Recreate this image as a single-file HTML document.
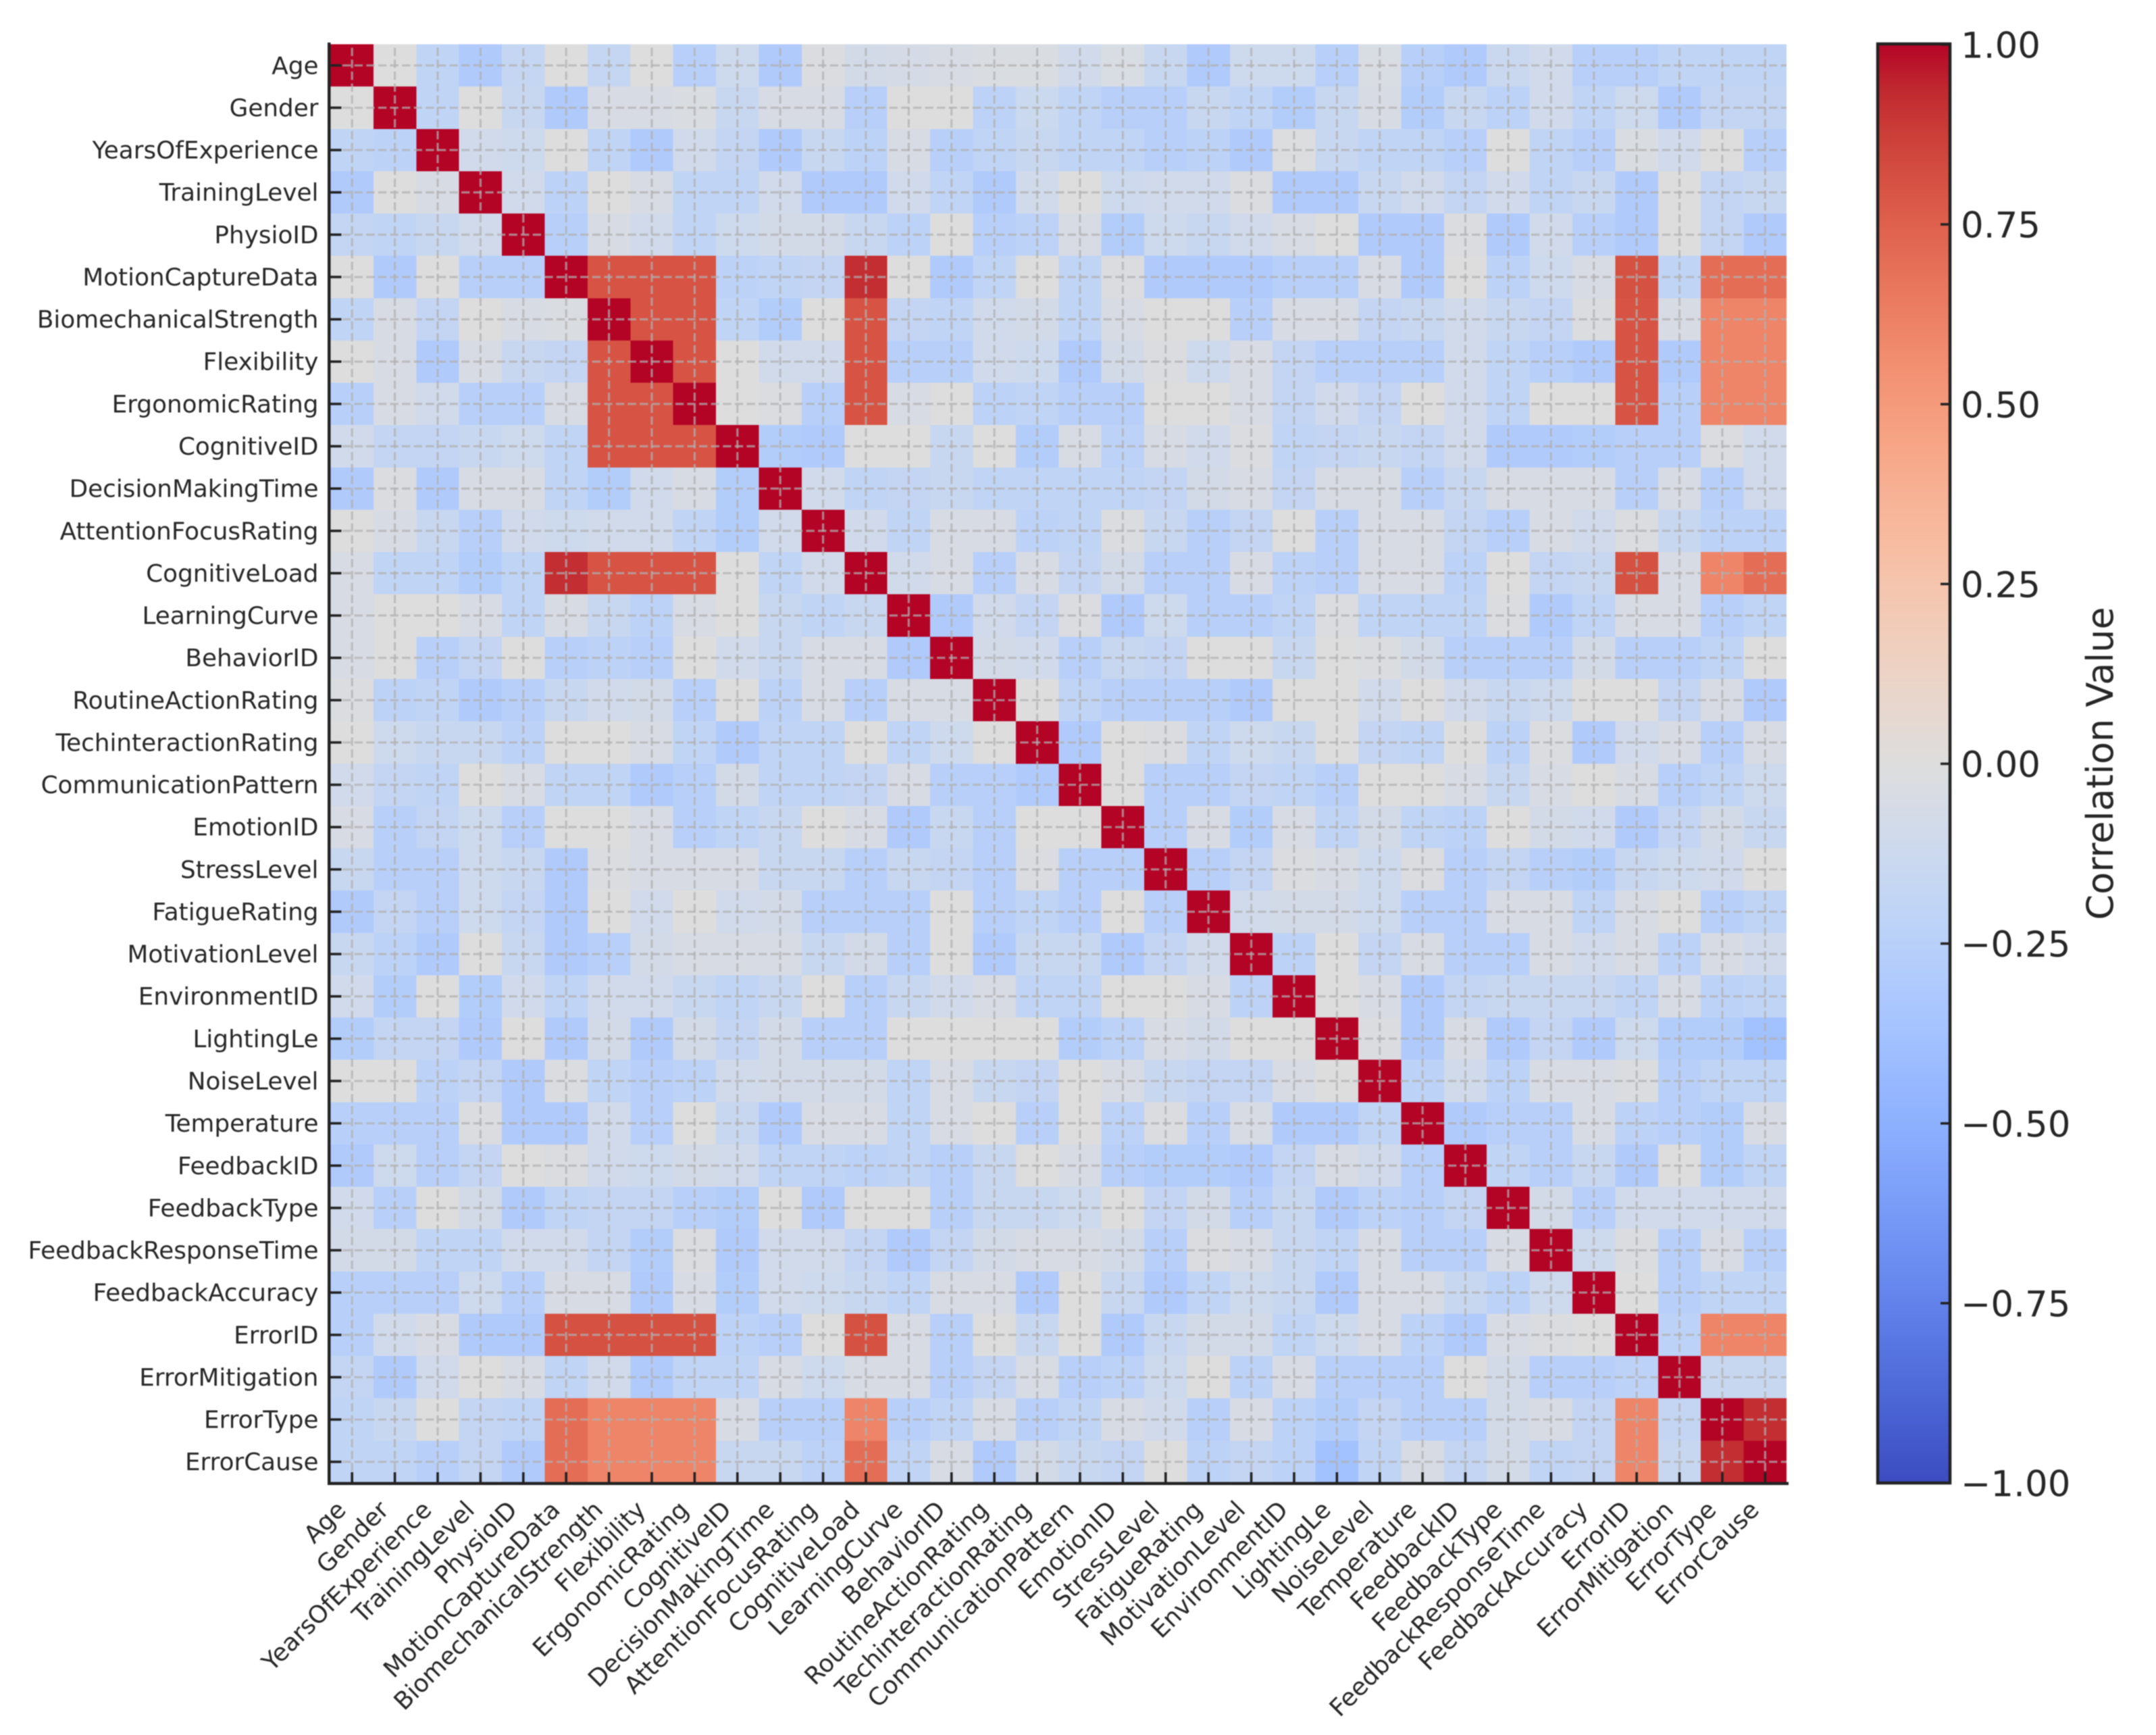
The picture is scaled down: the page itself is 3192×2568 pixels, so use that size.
<!DOCTYPE html>
<html lang="en">
<head>
<meta charset="utf-8">
<title>Correlation Heatmap</title>
<style>
html,body{margin:0;padding:0;background:#fff;}
svg{display:block;filter:blur(0.8px);}
text{font-family:"DejaVu Sans","Liberation Sans",sans-serif;fill:#262626;}
</style>
</head>
<body>
<svg id="chart" xmlns="http://www.w3.org/2000/svg" width="3192" height="2568" viewBox="0 0 3192 2568">
  <defs>
    <linearGradient id="colorbar-gradient" x1="0" y1="1" x2="0" y2="0"></linearGradient>
  </defs>
  <rect x="0" y="0" width="3192" height="2568" fill="#ffffff"/>
  <g id="cells" shape-rendering="crispEdges"></g>
  <g id="grid"></g>
  <g id="ticks"></g>
  <rect x="485" y="63" width="4.5" height="2135" fill="#222222"/>
  <rect x="485" y="2193.5" width="2163" height="4.5" fill="#222222"/>
  <g id="y-labels"></g>
  <g id="x-labels"></g>
  <rect x="2780" y="65" width="107" height="2130" fill="url(#colorbar-gradient)" stroke="#222222" stroke-width="4.5"/>
  <g id="colorbar-ticks"></g>
  <text transform="translate(3128 1130) rotate(-90)" text-anchor="middle" font-size="54">Correlation Value</text>
</svg>
<script>
const categories = ["Age","Gender","YearsOfExperience","TrainingLevel","PhysioID","MotionCaptureData","BiomechanicalStrength","Flexibility","ErgonomicRating","CognitiveID","DecisionMakingTime","AttentionFocusRating","CognitiveLoad","LearningCurve","BehaviorID","RoutineActionRating","TechinteractionRating","CommunicationPattern","EmotionID","StressLevel","FatigueRating","MotivationLevel","EnvironmentID","LightingLe","NoiseLevel","Temperature","FeedbackID","FeedbackType","FeedbackResponseTime","FeedbackAccuracy","ErrorID","ErrorMitigation","ErrorType","ErrorCause"];

const correlationValues = [
[1,0,-.2,-.3,-.17,0,-.17,0,-.25,-.12,-.3,-.02,-.08,-.06,-.05,-.03,-.03,-.1,-.04,-.15,-.3,-.12,-.12,-.25,-.04,-.25,-.3,-.14,-.1,-.25,-.25,-.2,-.2,-.2],
[0,1,-.2,0,-.15,-.3,-.05,-.05,-.03,-.15,-.05,-.05,-.25,0,0,-.22,-.13,-.2,-.25,-.25,-.15,-.2,-.28,-.15,-.05,-.28,-.15,-.22,-.1,-.2,-.12,-.3,-.18,-.18],
[-.2,-.22,1,-.1,-.12,0,-.2,-.3,-.1,-.18,-.3,-.15,-.22,-.05,-.25,-.2,-.15,-.2,-.2,-.25,-.22,-.3,-.01,-.15,-.2,-.2,-.25,0,-.2,-.25,-.03,-.1,0,-.25],
[-.3,0,-.05,1,-.1,-.22,0,-.05,-.2,-.2,-.1,-.3,-.3,-.1,-.2,-.3,-.1,0,-.12,-.1,-.1,-.02,-.3,-.3,-.15,-.1,-.18,-.1,-.2,-.15,-.3,0,-.18,-.15],
[-.18,-.2,-.15,-.1,1,-.25,-.05,-.1,-.2,-.12,-.08,-.08,-.15,-.22,0,-.25,-.22,-.05,-.28,-.12,-.15,-.1,-.05,0,-.3,-.3,-.02,-.3,-.1,-.25,-.3,0,-.18,-.3],
[0,-.3,0,-.25,-.25,1,.8,.8,.8,-.22,-.2,-.18,.92,0,-.3,-.2,0,-.2,-.02,-.3,-.3,-.3,-.25,-.25,-.05,-.3,0,-.22,-.12,-.05,.81,-.2,.7,.7],
[-.2,-.05,-.18,0,-.05,-.03,1,.8,.8,-.2,-.28,0,.8,-.18,-.2,-.1,-.08,-.2,-.05,0,0,-.25,-.05,-.05,-.18,-.15,-.1,-.15,-.18,-.02,.8,-.05,.6,.6],
[0,-.05,-.3,-.05,-.15,-.18,.8,1,.8,0,-.1,-.1,.8,-.25,-.25,-.1,-.12,-.3,-.08,-.02,-.12,-.05,-.18,-.25,-.25,-.25,-.1,-.2,-.25,-.3,.8,-.3,.6,.6],
[-.25,-.05,-.1,-.25,-.25,-.05,.8,.8,1,0,-.02,-.25,.8,-.05,0,-.22,-.2,-.25,-.25,0,0,-.05,-.18,-.1,-.18,0,-.1,-.2,0,0,.8,-.25,.6,.6],
[-.1,-.18,-.18,-.15,-.12,-.2,.8,.8,.8,1,-.28,-.3,0,0,-.15,0,-.28,-.05,-.22,-.05,-.1,-.02,-.2,-.18,-.15,-.18,-.1,-.3,-.3,-.28,-.25,-.25,-.02,-.1],
[-.3,-.02,-.3,-.05,-.05,-.2,-.28,-.1,-.05,-.28,1,-.1,-.2,-.18,-.15,-.2,-.2,-.2,-.2,-.18,-.08,-.05,-.18,-.05,-.05,-.25,-.15,-.05,-.05,-.05,-.25,-.05,-.25,-.1],
[0,-.05,-.15,-.25,-.1,-.12,-.1,-.1,-.2,-.28,-.1,1,-.1,-.2,-.05,-.05,-.22,-.2,-.02,-.15,-.25,-.18,0,-.25,-.05,-.05,-.18,-.25,-.05,-.1,-.02,-.15,-.22,-.22],
[-.05,-.2,-.2,-.28,-.2,.92,.8,.8,.8,0,-.2,-.1,1,-.1,-.05,-.25,-.05,-.18,-.08,-.25,-.25,-.05,-.22,-.25,-.05,-.05,-.22,0,-.18,-.15,.81,-.05,.6,.7],
[-.05,0,0,-.05,-.2,-.05,-.15,-.22,-.05,0,-.15,-.2,-.15,1,-.3,-.1,-.18,-.02,-.3,-.12,-.25,-.25,-.2,-.02,-.2,-.2,-.2,-.02,-.3,-.2,-.05,-.05,-.25,-.2],
[-.05,0,-.25,-.18,0,-.25,-.22,-.25,0,-.1,-.15,-.05,-.05,-.3,1,-.08,-.1,-.25,-.15,-.18,0,0,-.15,0,-.02,-.08,-.25,-.25,-.25,-.08,-.25,-.25,-.2,0],
[-.02,-.22,-.2,-.3,-.25,-.15,-.1,-.08,-.25,0,-.22,-.05,-.25,-.05,-.05,1,0,-.2,-.25,-.25,-.25,-.3,0,0,-.1,0,-.1,-.15,-.12,0,0,-.18,-.05,-.3],
[0,-.12,-.15,-.15,-.22,0,0,-.05,-.2,-.3,-.2,-.2,0,-.2,-.12,0,1,-.3,0,-.02,-.2,-.12,-.15,0,-.18,-.2,0,-.22,-.02,-.3,-.1,-.05,-.25,-.05],
[-.1,-.18,-.2,0,-.05,-.2,-.2,-.3,-.25,-.08,-.2,-.2,-.18,-.05,-.25,-.25,-.3,1,0,-.25,-.25,-.18,-.2,-.25,0,0,-.05,-.15,-.05,0,-.05,-.25,-.2,-.12],
[-.05,-.25,-.18,-.12,-.25,0,0,-.05,-.25,-.2,-.15,0,-.05,-.3,-.15,-.25,0,0,1,-.25,-.05,-.28,-.05,-.2,-.08,-.2,-.22,0,-.08,-.1,-.3,-.18,-.08,-.15],
[-.15,-.25,-.25,-.12,-.15,-.3,-.02,-.05,-.05,-.05,-.15,-.15,-.25,-.15,-.18,-.25,-.02,-.25,-.25,1,-.25,-.18,-.02,-.05,-.12,-.02,-.25,-.18,-.25,-.28,-.15,-.12,-.1,0],
[-.3,-.18,-.25,-.12,-.18,-.3,0,-.1,0,-.1,-.08,-.25,-.25,-.25,0,-.25,-.2,-.25,0,-.25,1,-.1,-.08,-.08,-.12,-.25,-.25,-.05,-.05,-.2,-.05,0,-.25,-.2],
[-.15,-.22,-.3,0,-.15,-.3,-.25,-.08,-.05,-.05,-.05,-.15,-.08,-.25,0,-.3,-.15,-.15,-.3,-.18,-.1,1,-.22,0,-.18,-.05,-.25,-.25,-.05,-.1,-.05,-.22,-.05,-.1],
[-.1,-.28,0,-.28,-.1,-.2,-.1,-.1,-.15,-.2,-.15,0,-.25,-.15,-.1,-.05,-.2,-.2,0,0,-.05,-.22,1,0,-.05,-.3,-.18,-.15,-.15,-.15,-.2,-.05,-.22,-.2],
[-.28,-.18,-.18,-.3,0,-.3,-.08,-.3,-.08,-.18,-.08,-.25,-.25,0,0,0,0,-.28,-.22,-.05,-.08,0,0,1,-.02,-.3,-.05,-.3,-.18,-.3,-.12,-.28,-.28,-.38],
[0,0,-.22,-.18,-.3,-.02,-.2,-.25,-.22,-.1,-.08,-.08,-.08,-.2,-.05,-.15,-.18,0,-.05,-.15,-.18,-.18,-.05,0,1,-.22,-.1,-.22,-.05,-.05,-.02,-.25,-.2,-.2],
[-.25,-.25,-.25,-.02,-.3,-.3,-.1,-.25,0,-.15,-.3,-.05,-.05,-.2,-.05,0,-.25,0,-.22,-.02,-.25,-.05,-.3,-.3,-.2,1,-.3,-.25,-.25,-.05,-.22,-.25,-.28,-.05],
[-.3,-.12,-.25,-.18,0,-.02,-.1,-.12,-.08,-.1,-.2,-.2,-.22,-.2,-.25,-.15,0,-.05,-.25,-.28,-.28,-.3,-.18,-.05,-.1,-.25,1,-.2,-.25,-.15,-.3,0,-.28,-.2],
[-.1,-.25,0,-.08,-.3,-.2,-.18,-.18,-.25,-.28,0,-.3,0,0,-.25,-.15,-.15,-.12,0,-.18,-.08,-.25,-.15,-.3,-.22,-.25,-.18,1,-.08,-.25,-.1,-.1,-.1,-.1],
[-.08,-.08,-.2,-.2,-.1,-.1,-.18,-.28,-.02,-.3,-.1,-.1,-.18,-.3,-.18,-.08,-.05,-.05,-.08,-.25,-.02,-.05,-.15,-.2,-.05,-.25,-.25,-.05,1,-.12,-.02,-.25,-.05,-.25],
[-.25,-.25,-.25,-.12,-.25,-.05,-.05,-.3,-.05,-.28,-.1,-.12,-.15,-.2,-.05,-.05,-.3,0,-.15,-.3,-.2,-.12,-.15,-.3,-.05,-.05,-.15,-.22,-.12,1,0,-.25,-.2,-.2],
[-.25,-.1,-.05,-.3,-.3,.81,.81,.81,.81,-.22,-.25,0,.81,-.05,-.25,0,-.15,0,-.3,-.15,-.08,-.08,-.2,-.12,-.05,-.22,-.3,-.05,-.02,0,1,-.22,.6,.6],
[-.18,-.3,-.1,0,-.05,-.2,-.1,-.3,-.2,-.2,-.05,-.12,-.05,-.05,-.25,-.18,-.05,-.25,-.22,-.12,0,-.22,-.05,-.25,-.25,-.25,0,-.08,-.25,-.25,-.22,1,-.15,-.15],
[-.2,-.15,0,-.18,-.2,.7,.6,.6,.6,-.05,-.25,-.25,.6,-.25,-.2,-.05,-.25,-.2,-.05,-.1,-.25,-.05,-.22,-.28,-.18,-.25,-.25,-.08,-.05,-.18,.6,-.18,1,.92],
[-.2,-.2,-.25,-.18,-.3,.7,.6,.6,.6,-.15,-.15,-.22,.7,-.2,-.05,-.3,-.08,-.15,-.18,0,-.22,-.18,-.22,-.38,-.2,-.05,-.18,-.08,-.2,-.18,.6,-.15,.92,1]
];

const colorbarTickValues = [1, 0.75, 0.5, 0.25, 0, -0.25, -0.5, -0.75, -1];
const colorbarTickLabels = ["1.00", "0.75", "0.50", "0.25", "0.00", "\u22120.25", "\u22120.50", "\u22120.75", "\u22121.00"];

const coolwarmTable = [[59,76,192],[68,90,204],[77,104,215],[87,117,225],[98,130,234],[108,142,241],[119,154,247],[130,165,251],[141,176,254],[152,185,255],[163,194,255],[174,201,253],[184,208,249],[194,213,244],[204,217,238],[213,219,230],[221,221,221],[229,216,209],[236,211,197],[241,204,185],[245,196,173],[247,187,160],[247,177,148],[247,166,135],[244,154,123],[241,141,111],[236,127,99],[229,112,88],[222,96,77],[213,80,66],[203,62,56],[192,40,47],[180,4,38]];

const SVG_NS = 'http://www.w3.org/2000/svg';
const plotLeft = 489.5, plotRight = 2645, plotTop = 65.5, plotBottom = 2195;
const barTop = 66, barBottom = 2195;

function xBand(i) { return plotLeft + (plotRight - plotLeft) * i / categories.length; }
function yBand(i) { return plotTop + (plotBottom - plotTop) * i / categories.length; }
function xCenter(i) { return xBand(i + 0.5); }
function yCenter(i) { return yBand(i + 0.5); }
function barY(v) { return barBottom - (v + 1) / 2 * (barBottom - barTop); }
function colorScale(v) {
  const t = Math.max(0, Math.min(1, (v + 1) / 2)) * (coolwarmTable.length - 1);
  const a = Math.floor(t), b = Math.min(a + 1, coolwarmTable.length - 1), f = t - a;
  const c = [0, 1, 2].map(function (k) { return Math.round(coolwarmTable[a][k] + (coolwarmTable[b][k] - coolwarmTable[a][k]) * f); });
  return 'rgb(' + c.join(',') + ')';
}
function make(tag, parent, props) {
  const el = document.createElementNS(SVG_NS, tag);
  Object.keys(props).forEach(function (k) { el.setAttribute(k, props[k]); });
  parent.appendChild(el);
  return el;
}

const cellsGroup = document.getElementById('cells');
const gridGroup = document.getElementById('grid');
const ticksGroup = document.getElementById('ticks');
const yLabelsGroup = document.getElementById('y-labels');
const xLabelsGroup = document.getElementById('x-labels');
const barTicksGroup = document.getElementById('colorbar-ticks');
const gradient = document.getElementById('colorbar-gradient');

coolwarmTable.forEach(function (c, i) {
  make('stop', gradient, { offset: (i / (coolwarmTable.length - 1)), 'stop-color': 'rgb(' + c.join(',') + ')' });
});

correlationValues.forEach(function (row, r) {
  row.forEach(function (value, c) {
    const cell = make('rect', cellsGroup, {
      x: xBand(c), y: yBand(r),
      width: xBand(c + 1) - xBand(c), height: yBand(r + 1) - yBand(r),
      fill: colorScale(value)
    });
    
    
  });
});

categories.forEach(function (name, i) {
  const gridStyle = { stroke: '#b0b0b0', 'stroke-opacity': 0.72, 'stroke-width': 3.2, 'stroke-dasharray': '12.3 5.3' };
  const vLine = make('line', gridGroup, Object.assign({ x1: xCenter(i), x2: xCenter(i), y1: plotBottom, y2: plotTop }, gridStyle));
  
  
  const hLine = make('line', gridGroup, Object.assign({ x1: plotLeft, x2: plotRight, y1: yCenter(i), y2: yCenter(i) }, gridStyle));
  
  

  const yTick = make('line', ticksGroup, { x1: plotLeft, x2: plotLeft + 16, y1: yCenter(i), y2: yCenter(i), stroke: '#222222', 'stroke-width': 3.6 });
  
  
  const xTick = make('line', ticksGroup, { x1: xCenter(i), x2: xCenter(i), y1: plotBottom, y2: plotBottom - 16, stroke: '#222222', 'stroke-width': 3.6 });
  
  

  const yLabel = make('text', yLabelsGroup, { x: 471.5, y: yCenter(i) + 12.5, 'text-anchor': 'end', 'font-size': 35.8 });
  yLabel.textContent = name;
  
  

  const bx = xCenter(i) - 7, by = plotBottom + 42;
  const xLabel = make('text', xLabelsGroup, { transform: 'translate(' + bx + ' ' + by + ') rotate(-45)', 'text-anchor': 'end', 'font-size': 36 });
  xLabel.textContent = name;
  
  
});

colorbarTickValues.forEach(function (v, i) {
  const y = barY(v);
  const tick = make('line', barTicksGroup, { x1: 2887, x2: 2873, y1: y, y2: y, stroke: '#222222', 'stroke-width': 3.6 });
  
  
  const label = make('text', barTicksGroup, { x: 2903, y: y + 19.5, 'font-size': 53 });
  label.textContent = colorbarTickLabels[i];
  
  
});
</script>
</body>
</html>
